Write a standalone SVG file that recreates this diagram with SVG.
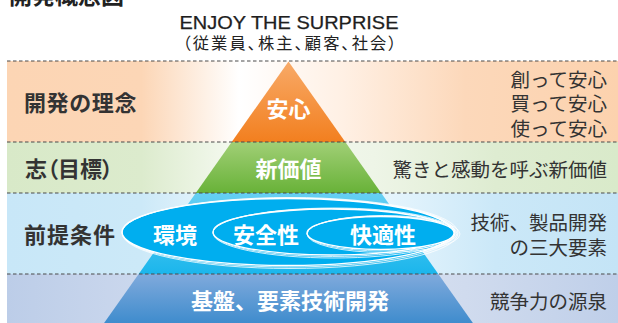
<svg xmlns="http://www.w3.org/2000/svg" width="618" height="323" viewBox="0 0 618 323">
<defs>
<linearGradient id="b1" x1="7" y1="0" x2="618" y2="0" gradientUnits="userSpaceOnUse">
<stop offset="0" stop-color="#fcd5b4"/><stop offset="0.22" stop-color="#fcd6b6"/><stop offset="0.38" stop-color="#ffffff"/><stop offset="0.55" stop-color="#fff0e4"/><stop offset="0.75" stop-color="#fcd8ba"/><stop offset="1" stop-color="#fcd2ae"/>
</linearGradient>
<linearGradient id="b2" x1="7" y1="0" x2="618" y2="0" gradientUnits="userSpaceOnUse">
<stop offset="0" stop-color="#d8e9c8"/><stop offset="0.22" stop-color="#dcebcd"/><stop offset="0.38" stop-color="#f6faf2"/><stop offset="0.6" stop-color="#eef5e7"/><stop offset="0.8" stop-color="#deecd1"/><stop offset="1" stop-color="#d9eaca"/>
</linearGradient>
<linearGradient id="b3" x1="7" y1="0" x2="618" y2="0" gradientUnits="userSpaceOnUse">
<stop offset="0" stop-color="#c8e7f8"/><stop offset="0.22" stop-color="#cce9f8"/><stop offset="0.38" stop-color="#f0f9fe"/><stop offset="0.62" stop-color="#e6f5fd"/><stop offset="0.8" stop-color="#cbe8f8"/><stop offset="1" stop-color="#c4e4f6"/>
</linearGradient>
<linearGradient id="b4" x1="7" y1="0" x2="618" y2="0" gradientUnits="userSpaceOnUse">
<stop offset="0" stop-color="#bccde8"/><stop offset="0.25" stop-color="#cdd9ee"/><stop offset="0.5" stop-color="#dce4f2"/><stop offset="0.75" stop-color="#d0dbee"/><stop offset="1" stop-color="#bfcfe9"/>
</linearGradient>
<linearGradient id="p1" x1="0" y1="61" x2="0" y2="142" gradientUnits="userSpaceOnUse">
<stop offset="0" stop-color="#f8aa68"/><stop offset="1" stop-color="#f27f1f"/>
</linearGradient>
<linearGradient id="p2" x1="0" y1="142" x2="0" y2="193" gradientUnits="userSpaceOnUse">
<stop offset="0" stop-color="#a1cf76"/><stop offset="1" stop-color="#68b238"/>
</linearGradient>
<linearGradient id="p3" x1="0" y1="193" x2="0" y2="274" gradientUnits="userSpaceOnUse">
<stop offset="0" stop-color="#66cff3"/><stop offset="1" stop-color="#1bb6ec"/>
</linearGradient>
<linearGradient id="p4" x1="0" y1="274" x2="0" y2="323" gradientUnits="userSpaceOnUse">
<stop offset="0" stop-color="#80aadc"/><stop offset="1" stop-color="#3f8ccd"/>
</linearGradient>
</defs>
<style>
.dash{stroke:#4a4a4a;stroke-width:1.1;stroke-dasharray:3.5 2.5;fill:none}
.lbl{font-family:"Noto Sans CJK JP","Noto Sans",sans-serif;font-weight:bold;font-size:22px;fill:#333333}
.rt{font-family:"Noto Sans CJK JP","Noto Sans",sans-serif;font-size:19.5px;fill:#333333;text-anchor:end}
.pt{font-family:"Noto Sans CJK JP","Noto Sans",sans-serif;font-weight:bold;font-size:22px;fill:#ffffff;text-anchor:middle}
.palt{font-feature-settings:"palt"}
.el{fill:#00aeef;stroke:#ffffff;stroke-width:1.3}
.ol{fill:none;stroke:#ffffff;stroke-width:0.8}
</style>

<g id="title">
<text x="9" y="4" font-family="Noto Sans CJK JP, sans-serif" font-weight="bold" font-size="23" fill="#222222">開発概念図</text>
</g>
<g id="header">
<text x="289" y="29" text-anchor="middle" font-family="Liberation Sans, Arial, sans-serif" font-size="18" fill="#1e1e1e" stroke="#1e1e1e" stroke-width="0.25" textLength="219" lengthAdjust="spacingAndGlyphs">ENJOY THE SURPRISE</text>
<text class="palt" x="289.5" y="49" text-anchor="middle" font-family="Noto Sans CJK JP, sans-serif" font-size="16.3" fill="#222222" textLength="214" lengthAdjust="spacing">（従業員、株主、顧客、社会）</text>
</g>

<g id="bands">
<rect x="7" y="61" width="611" height="81" fill="url(#b1)"/>
<rect x="7" y="142" width="611" height="51" fill="url(#b2)"/>
<rect x="7" y="193" width="611" height="81" fill="url(#b3)"/>
<rect x="7" y="274" width="611" height="49" fill="url(#b4)"/>
</g>

<g id="pyramid">
<polygon points="288.5,61.5 231.7,142 345.3,142" fill="url(#p1)"/>
<polygon points="231.7,142 345.3,142 381.2,193 195.8,193" fill="url(#p2)"/>
<polygon points="195.8,193 381.2,193 438.3,274 138.7,274" fill="url(#p3)"/>
<polygon points="138.7,274 438.3,274 472.9,323 104.1,323" fill="url(#p4)"/>
</g>

<g id="connectors">
<line class="dash" x1="7" y1="61" x2="618" y2="61"/>
<line class="dash" x1="7" y1="142" x2="618" y2="142"/>
<line class="dash" x1="7" y1="193" x2="618" y2="193"/>
<line class="dash" x1="7" y1="274" x2="618" y2="274"/>
</g>

<g id="row1">
<text class="lbl" x="24" y="110.5" letter-spacing="0.6">開発の理念</text>
<text class="pt" x="288.5" y="116.5">安心</text>
<text class="rt"><tspan x="607" y="86.5">創って安心</tspan><tspan x="607" y="110.5">買って安心</tspan><tspan x="607" y="135.5">使って安心</tspan></text>
</g>
<g id="row2">
<text class="lbl palt" x="25" y="176.5">志（目標）</text>
<text class="pt" x="288.5" y="176.5">新価値</text>
<text class="rt" x="607" y="176.5">驚きと感動を呼ぶ新価値</text>
</g>
<g id="row3">
<text class="lbl" x="24" y="242.5" letter-spacing="1">前提条件</text>
<g id="ellipse-big">
<ellipse class="el" cx="287" cy="232" rx="165" ry="33.5"/>
<ellipse class="ol" cx="288.5" cy="232.5" rx="166.5" ry="34.5"/>
<ellipse class="ol" cx="290" cy="233" rx="168" ry="35.5"/>
</g>
<g id="ellipse-mid">
<ellipse class="el" cx="331" cy="232" rx="118" ry="23"/>
<ellipse class="ol" cx="332.5" cy="232.5" rx="119.5" ry="24"/>
<ellipse class="ol" cx="334" cy="233" rx="121" ry="25"/>
</g>
<g id="ellipse-small">
<ellipse class="el" cx="380.5" cy="233" rx="73.5" ry="16.5"/>
<ellipse class="ol" cx="382" cy="233.5" rx="75" ry="17.5"/>
<ellipse class="ol" cx="383.5" cy="234" rx="76.5" ry="18.5"/>
</g>
<text class="pt" x="175" y="242.5">環境</text>
<text class="pt" x="266" y="242.5">安全性</text>
<text class="pt" x="383" y="242.5">快適性</text>
<text class="rt"><tspan x="607" y="229.5">技術、製品開発</tspan><tspan x="607" y="254.5">の三大要素</tspan></text>
</g>
<g id="row4">
<text class="pt" x="290" y="308.5">基盤、要素技術開発</text>
<text class="rt" x="607" y="308.5">競争力の源泉</text>
</g>
</svg>
